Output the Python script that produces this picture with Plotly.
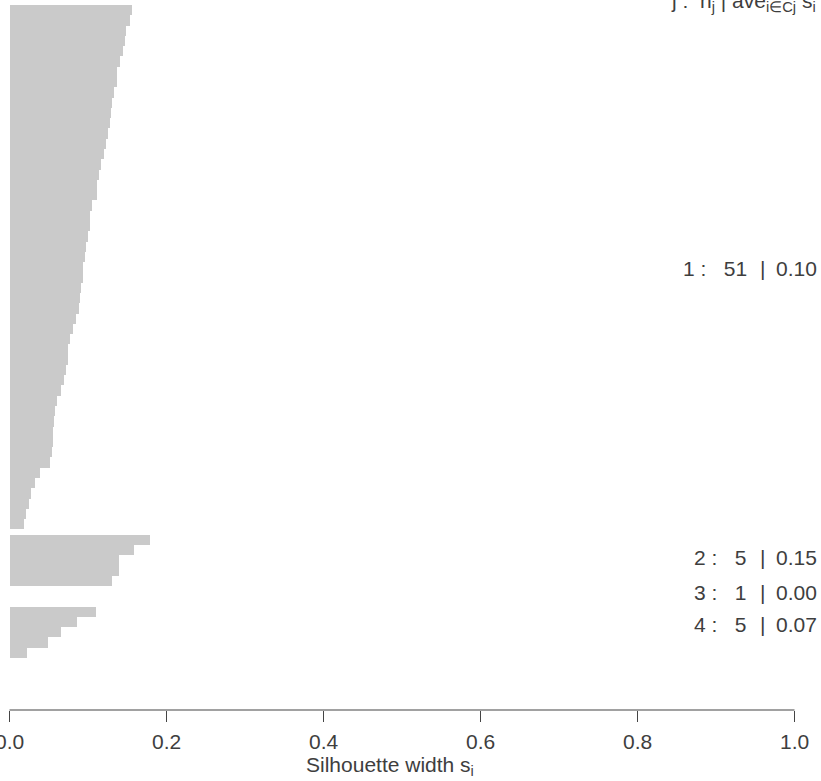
import plotly.graph_objects as go

# ---- data ----
cluster_ids = [1, 2, 3, 4]
cluster_sizes = [51, 5, 1, 5]
cluster_avg = ["0.10", "0.15", "0.00", "0.07"]

sil_c1 = [0.156, 0.153, 0.149, 0.147, 0.144, 0.141, 0.137, 0.137, 0.133, 0.130,
          0.129, 0.128, 0.126, 0.123, 0.120, 0.116, 0.114, 0.112, 0.111, 0.105,
          0.103, 0.102, 0.100, 0.098, 0.096, 0.094, 0.093, 0.091, 0.090, 0.088,
          0.085, 0.081, 0.077, 0.075, 0.074, 0.072, 0.069, 0.066, 0.061, 0.058,
          0.057, 0.056, 0.055, 0.054, 0.052, 0.039, 0.033, 0.028, 0.025, 0.021,
          0.018]
sil_c2 = [0.179, 0.158, 0.139, 0.139, 0.130]
sil_c3 = [0.000]
sil_c4 = [0.110, 0.086, 0.066, 0.049, 0.022]

x_ticks = [0.0, 0.2, 0.4, 0.6, 0.8, 1.0]
x_tick_labels = ["0.0", "0.2", "0.4", "0.6", "0.8", "1.0"]
x_title = "Silhouette width s<sub>i</sub>"
header = "j&nbsp;:&nbsp;&nbsp;n<sub>j</sub>&nbsp;|&nbsp;ave<sub>i\u2208Cj</sub>&nbsp;s<sub>i</sub>"

# ---- build bar positions (R barplot style: 0.5 gap between clusters) ----
series = [sil_c1, sil_c2, sil_c3, sil_c4]
ys, xs = [], []
start = 0.0
for vals in series:
    for i, v in enumerate(vals):
        ys.append(start + i + 0.5)
        xs.append(v)
    start += len(vals) + 0.5
total = start - 0.5

TXT = "#3e3e3e"
FONT = "Liberation Sans, Arial, sans-serif"
FS = 21

fig = go.Figure()
fig.add_trace(go.Bar(
    x=xs, y=ys, orientation="h", width=1.0,
    marker=dict(color="#cacaca", line=dict(width=0)),
    hoverinfo="skip", showlegend=False,
))

BAR_TOP_PX, BAR_BOT_PX, AXIS_PX = 5, 658, 710
H, W = 781, 821
scale = (BAR_BOT_PX - BAR_TOP_PX) / total
y_top = -BAR_TOP_PX / scale
y_bot = total + (AXIS_PX - BAR_BOT_PX) / scale

X0_PX, X1_PX = 9.5, 794.5
xs_scale = (X1_PX - X0_PX)
x_min = -X0_PX / xs_scale
x_max = 1 + (W - X1_PX) / xs_scale

fig.update_layout(
    width=W, height=H,
    margin=dict(l=0, r=0, t=0, b=H - AXIS_PX),
    paper_bgcolor="white", plot_bgcolor="white",
    bargap=0,
    font=dict(family=FONT, color=TXT),
    xaxis=dict(
        range=[x_min, x_max], tickvals=x_ticks, showticklabels=False,
        ticks="outside", ticklen=11, tickwidth=1, tickcolor="#444",
        showgrid=False, zeroline=False, showline=False,
    ),
    yaxis=dict(
        range=[y_bot, y_top], showticklabels=False, ticks="",
        showgrid=False, zeroline=False, showline=False,
    ),
)

def py(p):
    """pixel row -> paper y"""
    return 1 - p / AXIS_PX

# axis line from 0 to 1 only (as in R)
fig.add_shape(type="line", xref="x", yref="paper", x0=0, x1=1, y0=0, y1=0,
              line=dict(color="#444", width=1.2))

# tick labels (drawn as text so the half-cut "0.0" at the edge is kept)
for tv, tl in zip(x_ticks, x_tick_labels):
    fig.add_annotation(text=tl, xref="x", yref="paper", x=tv, y=py(741),
                       xanchor="center", yanchor="middle", showarrow=False,
                       font=dict(size=FS, color=TXT))

# axis title
fig.add_annotation(text=x_title, xref="paper", yref="paper", x=390 / W, y=py(766),
                   xanchor="center", yanchor="middle", showarrow=False,
                   font=dict(size=FS, color=TXT))

# cluster labels on the right:  "j :   n  |  ave"
label_y_px = [269, 557, 592, 624]
for cid, n, avg, p in zip(cluster_ids, cluster_sizes, cluster_avg, label_y_px):
    left = f"{cid}&nbsp;:" + "&nbsp;" * 3 + f"{n}"
    fig.add_annotation(text=left, xref="paper", yref="paper", x=749 / W, y=py(p),
                       xanchor="right", yanchor="middle", showarrow=False,
                       font=dict(size=FS, color=TXT))
    fig.add_annotation(text="|", xref="paper", yref="paper", x=762 / W, y=py(p),
                       xanchor="center", yanchor="middle", showarrow=False,
                       font=dict(size=FS, color=TXT))
    fig.add_annotation(text=avg, xref="paper", yref="paper", x=774 / W, y=py(p),
                       xanchor="left", yanchor="middle", showarrow=False,
                       font=dict(size=FS, color=TXT))

fig.add_annotation(
    text=header, xref="paper", yref="paper",
    x=818 / W, y=py(2), xanchor="right", yanchor="middle",
    showarrow=False, font=dict(size=FS, color=TXT),
)

fig.write_html("out.html")
